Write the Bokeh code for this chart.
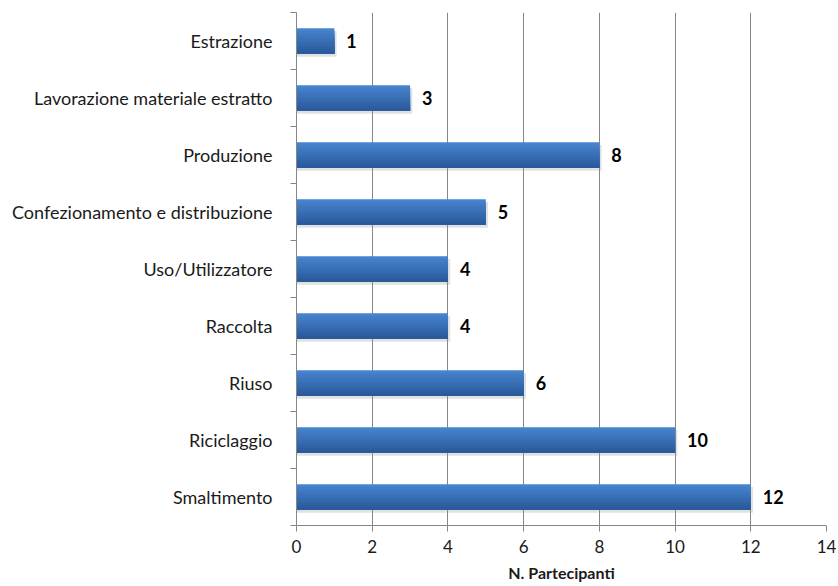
from bokeh.plotting import figure
from bokeh.models import ColumnDataSource, FixedTicker, Range1d
from bokeh.core.properties import value
from bokeh.embed import file_html
from bokeh.resources import INLINE
import numpy as np

# Life-cycle phases (top to bottom) and number of participants
categories = [
    "Estrazione",
    "Lavorazione materiale estratto",
    "Produzione",
    "Confezionamento e distribuzione",
    "Uso/Utilizzatore",
    "Raccolta",
    "Riuso",
    "Riciclaggio",
    "Smaltimento",
]
participants = [1, 3, 8, 5, 4, 4, 6, 10, 12]
x_ticks = [0, 2, 4, 6, 8, 10, 12, 14]

FONT = "Lato"
n = len(categories)
# first category at the top: centre of slot i counted from the bottom
centers = (n - 1 - np.arange(n)) + 0.5
bar_h = 0.45

p = figure(
    width=838, height=586,
    x_range=Range1d(0, 14), y_range=Range1d(0, n),
    output_backend="svg", toolbar_location=None,
    min_border_left=296, min_border_right=12,
    min_border_top=12, min_border_bottom=61,
)
p.outline_line_color = None
p.background_fill_color = "white"
p.border_fill_color = "white"

# soft drop shadow
p.hbar(y=centers - 0.05, left=0, right=np.array(participants) + 0.06, height=bar_h,
       fill_color="#9a9a9a", fill_alpha=0.3, line_color=None)

# bar with vertical gradient: each layer runs from its own top edge down to
# the bar's bottom, so layers overlap and leave no seams
top_rgb = np.array([0x47, 0x84, 0xCF])
bot_rgb = np.array([0x2A, 0x5A, 0x9B])
bands = 10
bar_bottom = centers - bar_h / 2
for k in range(bands):
    t = k / (bands - 1)
    rgb = (top_rgb * (1 - t) + bot_rgb * t).astype(int)
    color = "#%02x%02x%02x" % tuple(rgb)
    layer_top = centers + bar_h / 2 - k * bar_h / bands
    p.hbar(y=(layer_top + bar_bottom) / 2, left=0, right=participants,
           height=layer_top - bar_bottom, fill_color=color, line_color=None)

# value labels next to the bars
src = ColumnDataSource(dict(x=participants, y=centers, t=[str(v) for v in participants]))
p.text(x="x", y="y", text="t", source=src, x_offset=12,
       text_font=value(FONT), text_font_style="bold", text_font_size="18px",
       text_color="black", text_baseline="middle", text_align="left")

# x axis
p.xaxis.ticker = FixedTicker(ticks=x_ticks)
p.xaxis.axis_label = "N. Partecipanti"
p.xaxis.axis_label_text_font = FONT
p.xaxis.axis_label_text_font_style = "bold"
p.xaxis.axis_label_text_font_size = "16px"
p.xaxis.axis_label_text_color = "#1a1a1a"
p.xaxis.axis_label_standoff = 7
p.xaxis.major_label_text_font = FONT
p.xaxis.major_label_text_font_size = "17px"
p.xaxis.major_label_text_color = "#1a1a1a"
p.xaxis.major_label_standoff = 8
p.xaxis.axis_line_color = "#868686"
p.xaxis.major_tick_line_color = "#868686"
p.xaxis.major_tick_in = 0
p.xaxis.major_tick_out = 6
p.xaxis.minor_tick_line_color = None

# y axis: labels at slot centres, tick marks at slot boundaries
p.yaxis.ticker = FixedTicker(ticks=list(centers), minor_ticks=list(range(n + 1)))
p.yaxis.major_label_overrides = {float(c): lab for c, lab in zip(centers, categories)}
p.yaxis.major_label_text_font = FONT
p.yaxis.major_label_text_font_size = "18px"
p.yaxis.major_label_text_color = "#1a1a1a"
p.yaxis.major_label_standoff = 18
p.yaxis.major_tick_line_color = None
p.yaxis.minor_tick_line_color = "#868686"
p.yaxis.minor_tick_in = 0
p.yaxis.minor_tick_out = 6
p.yaxis.axis_line_color = "#868686"

# vertical gridlines only
p.xgrid.ticker = FixedTicker(ticks=x_ticks[1:])
p.xgrid.grid_line_color = "#868686"
p.ygrid.grid_line_color = None

open("out.html", "w").write(file_html(p, INLINE))
